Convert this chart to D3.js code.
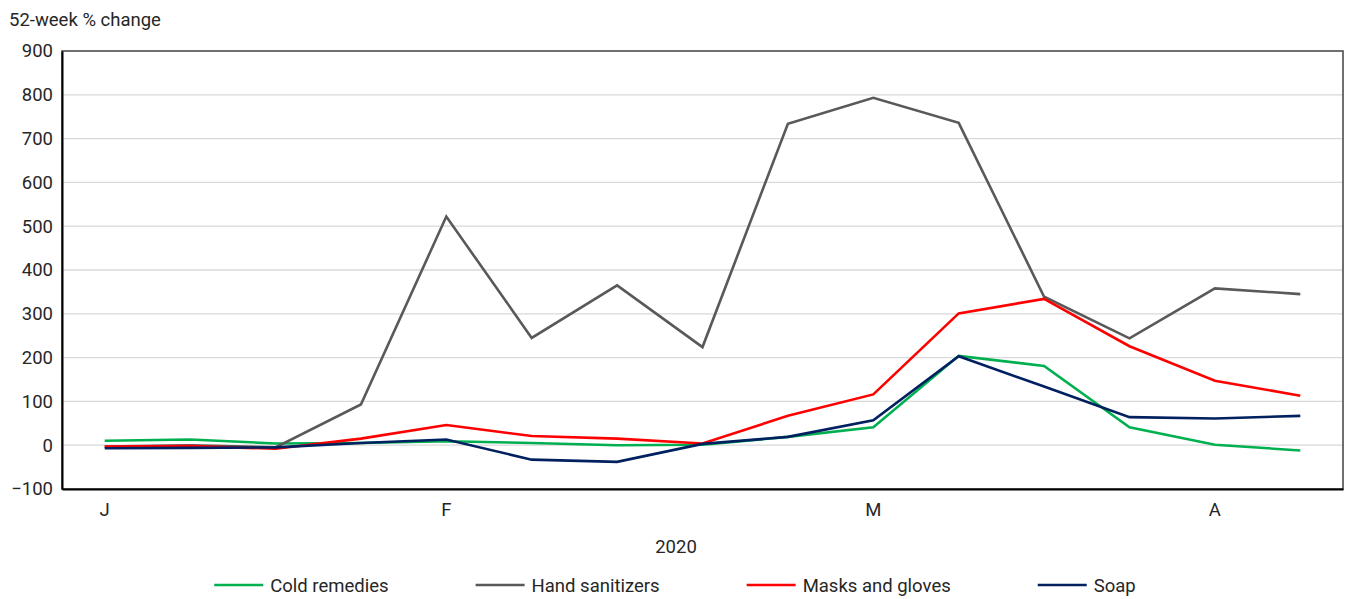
<!DOCTYPE html>
<html>
<head>
<meta charset="utf-8">
<script src="https://cdn.jsdelivr.net/npm/d3@7/dist/d3.min.js"></script>
<style>
  html, body { margin: 0; padding: 0; background: #ffffff; }
  svg { display: block; }
  text { font-family: Roboto, "Liberation Sans", Arial, sans-serif; fill: #262626; }
</style>
</head>
<body>
<svg id="chart" width="1346" height="599"></svg>
<script>
// Weekly observations, January to mid-April 2020
const weeks = d3.range(15);
const monthTicks = [0, 4, 9, 13];
const monthLabels = ["J", "F", "M", "A"];
const yTicks = [-100, 0, 100, 200, 300, 400, 500, 600, 700, 800, 900];

const seriesNames = ["Cold remedies", "Hand sanitizers", "Masks and gloves", "Soap"];
const seriesColors = ["#00b050", "#595959", "#ff0000", "#002060"];

const coldRemedies   = [10, 13, 4, 5, 9, 5, 0, 1, 19, 41, 204, 181, 41, 1, -12];
const handSanitizers = [-3, 0, -5, 93, 522, 245, 365, 224, 734, 793, 736, 339, 244, 358, 345];
const masksGloves    = [-3, -2, -8, 15, 46, 21, 15, 4, 67, 116, 301, 334, 226, 147, 113];
const soap           = [-7, -6, -5, 5, 13, -33, -38, 3, 19, 57, 203, 134, 64, 61, 67];

const seriesValues = [coldRemedies, handSanitizers, masksGloves, soap];

const FONT = "Roboto, Liberation Sans, sans-serif";
const FS = 18.5;

const svg = d3.select("#chart");
const margin = { left: 62, right: 1343, top: 51, bottom: 489 };

const x = d3.scaleBand().domain(weeks).range([margin.left, margin.right]);
const xc = i => x(i) + x.bandwidth() / 2;
const y = d3.scaleLinear().domain([-100, 900]).range([margin.bottom, margin.top]);

// horizontal gridlines
svg.append("g")
  .selectAll("line")
  .data(yTicks.filter(t => t > -100 && t < 900))
  .join("line")
  .attr("x1", margin.left).attr("x2", margin.right)
  .attr("y1", d => y(d)).attr("y2", d => y(d))
  .attr("stroke", "#d9d9d9").attr("stroke-width", 1.3);

// plot frame
svg.append("rect")
  .attr("x", margin.left).attr("y", margin.top)
  .attr("width", margin.right - margin.left)
  .attr("height", margin.bottom - margin.top)
  .attr("fill", "none").attr("stroke", "#404040").attr("stroke-width", 1.5);

// y axis
const yAxis = svg.append("g")
  .attr("transform", `translate(${margin.left},0)`)
  .call(d3.axisLeft(y).tickValues(yTicks).tickSize(0).tickPadding(9));
yAxis.select(".domain").attr("stroke", "#000").attr("stroke-width", 2);
yAxis.selectAll("text").attr("font-size", FS).attr("font-family", FONT).style("fill", "#262626");

// x axis with month initials
const xAxis = svg.append("g")
  .attr("transform", `translate(0,${margin.bottom})`)
  .call(d3.axisBottom(x).tickValues(monthTicks)
    .tickFormat(d => monthLabels[monthTicks.indexOf(d)])
    .tickSize(0).tickPadding(14));
xAxis.select(".domain").attr("stroke", "#000").attr("stroke-width", 2);
xAxis.selectAll("text").attr("font-size", FS).attr("font-family", FONT).style("fill", "#262626");

// axis titles
svg.append("text")
  .attr("x", 9).attr("y", 26)
  .attr("font-size", FS)
  .text("52-week % change");

svg.append("text")
  .attr("x", 676).attr("y", 553)
  .attr("text-anchor", "middle")
  .attr("font-size", FS)
  .text("2020");

// series lines
const line = d3.line().x((d, i) => xc(i)).y(d => y(d));
svg.append("g")
  .selectAll("path")
  .data(seriesValues)
  .join("path")
  .attr("d", d => line(d))
  .attr("fill", "none")
  .attr("stroke", (d, i) => seriesColors[i])
  .attr("stroke-width", 2.6)
  .attr("stroke-linejoin", "miter");

// legend
const legend = svg.append("g").attr("transform", "translate(0,585)");
const items = legend.selectAll("g").data(seriesNames).join("g");
items.append("line")
  .attr("x1", 0).attr("x2", 49).attr("y1", 0).attr("y2", 0)
  .attr("stroke", (d, i) => seriesColors[i]).attr("stroke-width", 2.6);
items.append("text")
  .attr("x", 56).attr("y", 7)
  .attr("font-size", FS)
  .text(d => d);

let widths = [];
items.each(function () { widths.push(this.getBBox().width); });
const gap = 87;
const total = d3.sum(widths) + gap * (widths.length - 1);
let cursor = 675 - total / 2;
items.attr("transform", (d, i) => {
  const t = `translate(${cursor},0)`;
  cursor += widths[i] + gap;
  return t;
});
</script>
</body>
</html>
